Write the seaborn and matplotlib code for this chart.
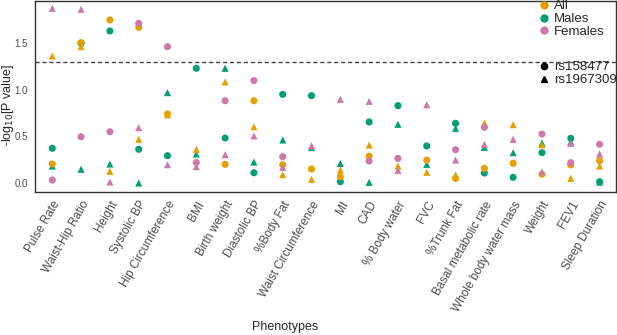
import numpy as np
import pandas as pd
import matplotlib
matplotlib.use("Agg")
import matplotlib.pyplot as plt
from matplotlib.lines import Line2D
import seaborn as sns

phenotypes = ["Pulse Rate", "Waist-Hip Ratio", "Height", "Systolic BP", "Hip Circumference",
              "BMI", "Birth weight", "Diastolic BP", "%Body Fat", "Waist Circumference",
              "MI", "CAD", "% Body water", "FVC", "%Trunk Fat", "Basal metabolic rate",
              "Whole body water mass", "Weight", "FEV1", "Sleep Duration"]

all_rs158477 = [0.204, 1.504, 1.747, 1.668, 0.74, np.nan, 0.20, 0.882, 0.196, 0.15,
                0.068, 0.289, np.nan, 0.246, 0.05, 0.157, 0.211, 0.095, 0.193, 0.239]
all_rs1967309 = [1.361, 1.461, 0.125, 0.468, 0.73, 0.36, 1.083, 0.603, 0.089, 0.04,
                 0.14, 0.407, 0.182, 0.115, 0.086, 0.64, 0.625, 0.41, 0.05, 0.182]
males_rs158477 = [0.372, 1.497, 1.629, 0.361, 0.293, 1.229, 0.482, 0.11, 0.95, 0.936,
                  0.014, 0.654, 0.829, 0.397, 0.64, 0.107, 0.061, 0.325, 0.479, 0.014]
males_rs1967309 = [0.182, 0.147, 0.204, 0.0, 0.968, 0.31, 1.229, 0.225, 0.461, 0.38,
                   0.21, 0.007, 0.629, 0.2, 0.586, 0.382, 0.325, 0.43, 0.44, 0.01]
females_rs158477 = [0.032, 0.496, 0.55, 1.711, 1.461, 0.22, 0.882, 1.097, 0.282, np.nan,
                    np.nan, 0.236, 0.264, np.nan, 0.357, 0.597, np.nan, 0.525, 0.218, 0.415]
females_rs1967309 = [1.872, 1.861, 0.011, 0.593, 0.196, 0.175, 0.303, 0.504, 0.168, 0.40,
                     0.897, 0.875, 0.136, 0.839, 0.246, 0.415, 0.468, 0.121, 0.425, 0.311]

groups = ["All", "Males", "Females"]
snps = ["rs158477", "rs1967309"]
palette = {"All": "#E69F00", "Males": "#009E73", "Females": "#CC79A7"}
markers = {"rs158477": "o", "rs1967309": "^"}

series = {
    ("Males", "rs158477"): males_rs158477,
    ("Males", "rs1967309"): males_rs1967309,
    ("All", "rs158477"): all_rs158477,
    ("All", "rs1967309"): all_rs1967309,
    ("Females", "rs158477"): females_rs158477,
    ("Females", "rs1967309"): females_rs1967309,
}
rows = []
for (g, s), vals in series.items():
    for p, v in zip(phenotypes, vals):
        rows.append({"Phenotype": p, "Group": g, "SNP": s, "value": v})
df = pd.DataFrame(rows).dropna()
df["x"] = df["Phenotype"].map({p: i for i, p in enumerate(phenotypes)})

sns.set_style("white")
plt.rcParams["font.family"] = ["Liberation Sans", "DejaVu Sans"]

W, H = 617, 335
fig = plt.figure(figsize=(W / 100, H / 100), dpi=100)
ax = fig.add_axes([35 / W, (H - 192) / H, (616 - 35) / W, (192 - 1) / H])

for g in ["Males", "All", "Females"]:
    sub = df[df["Group"] == g]
    sns.scatterplot(data=sub, x="x", y="value", style="SNP", markers=markers,
                    style_order=snps, color=palette[g], s=26, linewidth=0,
                    legend=False, ax=ax, zorder=3)

ax.axhline(-np.log10(0.05), color="#444444", linestyle=(0, (3, 2)), linewidth=1.0, zorder=2)

ax.set_xlim(-0.6, 19.57)
ax.set_ylim(-0.096, 1.95)
ax.set_xticks(range(len(phenotypes)))
ax.set_xticklabels(phenotypes, rotation=60, ha="right", rotation_mode="anchor",
                   fontsize=8.5, color="#4d4d4d")
ax.set_yticks([0.0, 0.5, 1.0, 1.5])
ax.set_yticklabels(["0.0", "0.5", "1.0", "1.5"], fontsize=7, color="#4d4d4d")
ax.tick_params(axis="both", direction="out", length=3, width=0.8, color="#333333", pad=2)
for sp in ax.spines.values():
    sp.set_color("#333333")
    sp.set_linewidth(1.0)
ax.set_xlabel("")
ax.set_ylabel("-log$_{10}$[P value]", fontsize=9)
ax.yaxis.set_label_coords(-(35 - 8) / (616 - 35), (192 - 105) / 191)
ax.yaxis.label.set_va("center")

fig.text(285 / W, 1 - 327 / H, "Phenotypes", ha="center", va="center", fontsize=9)

h1 = [Line2D([], [], marker="o", linestyle="", color=palette[g], markersize=5) for g in groups]
leg1 = ax.legend(h1, groups, loc="upper left", bbox_to_anchor=(536 / W, 1 - 0 / H),
                 bbox_transform=fig.transFigure, frameon=False, fontsize=9.5,
                 handletextpad=0.15, borderpad=0, labelspacing=0.05, handlelength=1.2,
                 borderaxespad=0)
ax.add_artist(leg1)
h2 = [Line2D([], [], marker=markers[s], linestyle="", color="black", markersize=4.5) for s in snps]
ax.legend(h2, snps, loc="upper left", bbox_to_anchor=(536 / W, 1 - 61 / H),
          bbox_transform=fig.transFigure, frameon=False, fontsize=9.5,
          handletextpad=0.15, borderpad=0, labelspacing=0.05, handlelength=1.2,
          borderaxespad=0)

fig.savefig("out.png", dpi=100)
